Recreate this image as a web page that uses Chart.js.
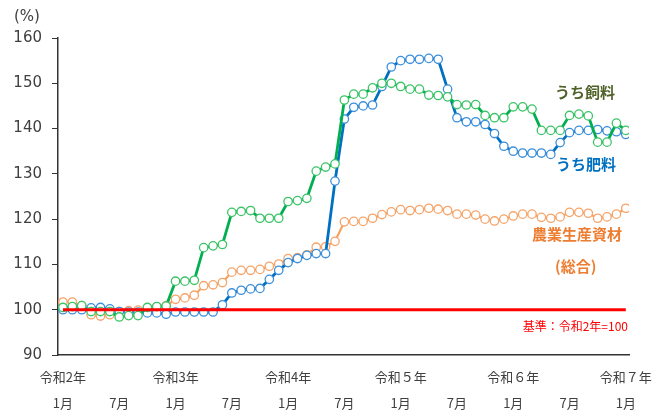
<!DOCTYPE html>
<html>
<head>
<meta charset="utf-8">
<script src="https://cdn.jsdelivr.net/npm/chart.js@4"></script>
<style>
  body { margin: 0; background: #fff; }
  #wrap { width: 665px; height: 415px; position: relative; }
</style>
</head>
<body>
<div id="wrap"><canvas id="chart"></canvas></div>
<script>
// months from 令和2年1月 (index 0) to 令和7年1月 (index 60)
var tickPos = [0, 6, 12, 18, 24, 30, 36, 42, 48, 54, 60];
var tickYear = ['令和2年', '', '令和3年', '', '令和4年', '', '令和５年', '', '令和６年', '', '令和７年'];
var tickMonth = ['1月', '7月', '1月', '7月', '1月', '7月', '1月', '7月', '1月', '7月', '1月'];
var yTicks = [90, 100, 110, 120, 130, 140, 150, 160];
var baseValue = 100;

// 農業生産資材（総合）
var totalValues = [
  101.7, 101.7, 100.9, 98.9, 98.6, 98.9, 99.6, 99.8, 99.9, 100.4, 100.6, 100.9,
  102.3, 102.6, 103.2, 105.3, 105.5, 106.0, 108.3, 108.7, 108.7, 108.9, 109.6, 110.1,
  111.3, 111.5, 112.1, 113.8, 113.9, 115.1, 119.4, 119.5, 119.5, 120.2, 121.0, 121.6,
  122.1, 121.9, 122.1, 122.4, 122.2, 121.9, 121.1, 121.1, 120.9, 120.0, 119.6, 120.0,
  120.7, 121.1, 121.1, 120.4, 120.2, 120.5, 121.5, 121.5, 121.3, 120.2, 120.5, 121.1,
  122.4
];
// うち肥料
var fertValues = [
  100.0, 100.0, 100.0, 100.4, 100.5, 100.2, 99.6, 99.5, 99.5, 99.3, 99.3, 99.0,
  99.5, 99.5, 99.5, 99.5, 99.5, 101.1, 103.7, 104.3, 104.6, 104.7, 106.7, 108.7,
  110.4, 111.3, 112.0, 112.4, 112.4, 128.4, 142.1, 144.7, 145.0, 145.2, 149.3, 153.6,
  155.0, 155.3, 155.3, 155.5, 155.3, 148.7, 142.4, 141.5, 141.5, 140.9, 138.9, 136.1,
  135.0, 134.6, 134.6, 134.6, 134.3, 136.9, 139.1, 139.6, 139.6, 139.8, 139.5, 139.3,
  138.7
];
// うち飼料
var feedValues = [
  100.5, 100.7, 100.9, 99.6, 99.6, 99.6, 98.4, 98.7, 98.7, 100.5, 100.7, 100.8,
  106.3, 106.3, 106.5, 113.7, 114.1, 114.4, 121.5, 121.7, 121.9, 120.2, 120.2, 120.2,
  123.9, 124.1, 124.6, 130.6, 131.5, 132.2, 146.3, 147.6, 147.6, 149.0, 150.0, 150.0,
  149.3, 148.7, 148.7, 147.4, 147.3, 147.0, 145.3, 145.2, 145.3, 142.9, 142.4, 142.4,
  144.8, 144.8, 144.3, 139.6, 139.6, 139.6, 142.9, 143.2, 142.8, 137.0, 137.0, 141.2,
  139.6
];

function toPoints(arr) {
  return arr.map(function (v, i) { return { x: i, y: v }; });
}

var axisColor = '#333333';
var labelColor = '#404040';

// text labels next to the lines
var notePlugin = {
  id: 'notes',
  afterDraw: function (chart) {
    var c = chart.ctx;
    c.save();
    c.textBaseline = 'middle';
    c.textAlign = 'left';
    c.font = '15px "DejaVu Sans", sans-serif';
    c.fillStyle = labelColor;
    c.fillText('(%)', 14, 17);

    c.font = 'bold 15px "Noto Sans CJK JP", sans-serif';
    c.fillStyle = '#4F6228';
    c.fillText('うち飼料', 555, 92);
    c.fillStyle = '#0070C0';
    c.fillText('うち肥料', 556, 164);
    c.fillStyle = '#ED7D31';
    c.fillText('農業生産資材', 532, 234);
    c.fillText('(総合)', 555, 266);

    c.font = '12px "Noto Sans CJK JP", sans-serif';
    c.fillStyle = '#FF0000';
    c.textAlign = 'right';
    c.fillText('基準：令和2年=100', 628, 326);
    c.restore();
  }
};

var ctx = document.getElementById('chart');
var myChart = new Chart(ctx, {
  type: 'line',
  data: {
    datasets: [
      {
        label: '基準',
        data: [{ x: 0, y: baseValue }, { x: 60, y: baseValue }],
        borderColor: '#FF0000',
        borderWidth: 3,
        pointRadius: 0,
        order: 0
      },
      {
        label: 'うち飼料',
        data: toPoints(feedValues),
        borderColor: '#00B050',
        borderWidth: 2.8,
        pointRadius: 4.2,
        pointBorderWidth: 1.3,
        pointBackgroundColor: '#ffffff',
        pointBorderColor: '#3DC468',
        order: 1
      },
      {
        label: 'うち肥料',
        data: toPoints(fertValues),
        borderColor: '#0070C0',
        borderWidth: 2.8,
        pointRadius: 4.2,
        pointBorderWidth: 1.3,
        pointBackgroundColor: '#ffffff',
        pointBorderColor: '#3C8FDB',
        order: 2
      },
      {
        label: '農業生産資材（総合）',
        data: toPoints(totalValues),
        borderColor: '#F7A25E',
        borderWidth: 2.2,
        pointRadius: 4.2,
        pointBorderWidth: 1.3,
        pointBackgroundColor: '#ffffff',
        pointBorderColor: '#F5A46A',
        order: 3
      }
    ]
  },
  options: {
    animation: false,
    responsive: true,
    maintainAspectRatio: false,
    layout: { padding: { top: 38, right: 36, left: 0, bottom: 0 } },
    plugins: {
      legend: { display: false },
      tooltip: { enabled: false }
    },
    scales: {
      x: {
        type: 'linear',
        min: -0.53,
        max: 60.34,
        afterBuildTicks: function (scale) {
          scale.ticks = tickPos.map(function (v) { return { value: v }; });
        },
        afterFit: function (scale) { scale.height = 60; },
        grid: { display: true, drawOnChartArea: false, drawTicks: false },
        border: { display: true, color: axisColor, width: 1.5 },
        ticks: {
          autoSkip: false,
          maxRotation: 0,
          padding: 9,
          color: labelColor,
          font: { family: '"Noto Sans CJK JP", sans-serif', size: 13, lineHeight: 2 },
          callback: function (value) {
            var k = tickPos.indexOf(value);
            if (k < 0) return '';
            return [tickYear[k], tickMonth[k]];
          }
        }
      },
      y: {
        min: 90,
        max: 160,
        afterBuildTicks: function (scale) {
          scale.ticks = yTicks.map(function (v) { return { value: v }; });
        },
        afterFit: function (scale) { scale.width = 58; },
        grid: { display: true, drawOnChartArea: false, drawTicks: true, tickLength: 6, color: axisColor },
        border: { display: true, color: axisColor, width: 1.5 },
        ticks: {
          padding: 10,
          color: labelColor,
          font: { family: '"DejaVu Sans", sans-serif', size: 15 }
        }
      }
    }
  },
  plugins: [notePlugin]
});
</script>
</body>
</html>
